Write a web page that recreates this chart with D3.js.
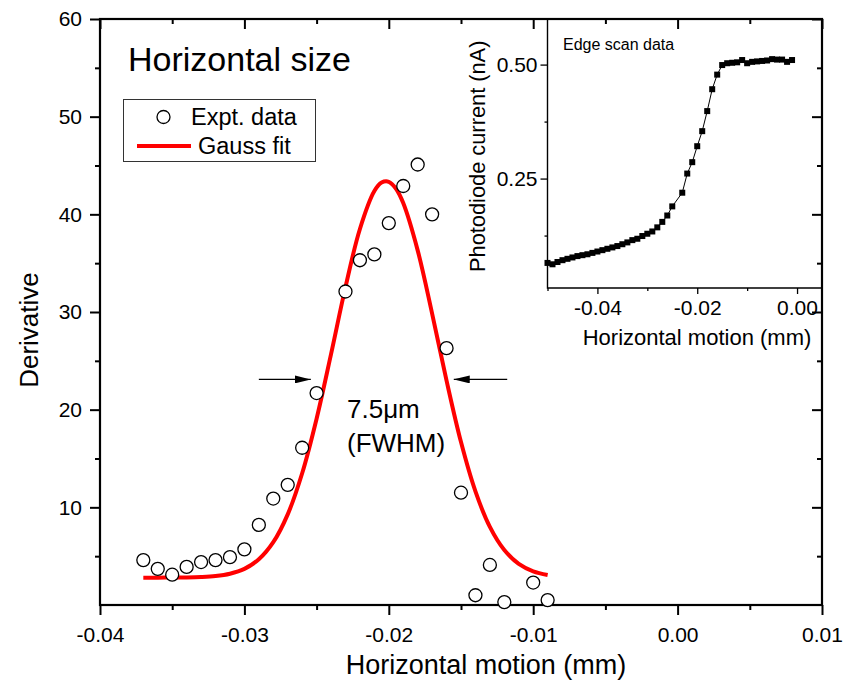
<!DOCTYPE html>
<html><head><meta charset="utf-8">
<script src="https://cdn.jsdelivr.net/npm/d3@7/dist/d3.min.js"></script>
<style>
body{margin:0;background:#fff}
svg{display:block}
text{font-family:"Liberation Sans",Arial,Helvetica,sans-serif;fill:#000}
</style>
</head><body>
<svg id="c" width="854" height="684"></svg>
<script>
// ---------- data ----------
const exptX = [-0.037,-0.036,-0.035,-0.034,-0.033,-0.032,-0.031,-0.030,-0.029,-0.028,-0.027,-0.026,-0.025,
               -0.023,-0.022,-0.021,-0.020,-0.019,-0.018,-0.017,-0.016,-0.015,-0.014,-0.013,-0.012,-0.010,-0.009];
const exptY = [4.6,3.7,3.1,3.9,4.4,4.6,4.9,5.7,8.2,10.9,12.3,16.1,21.7,
               32.1,35.3,35.9,39.1,42.9,45.1,40.0,26.3,11.5,1.0,4.1,0.3,2.3,0.5];

const fitX = [-0.037,-0.036,-0.035,-0.034,-0.033,-0.032,-0.031,-0.030,-0.029,-0.028,-0.027,-0.026,-0.025,-0.024,
              -0.023,-0.022,-0.021,-0.0205,-0.020,-0.0195,-0.019,-0.018,-0.017,-0.016,-0.015,-0.014,-0.013,-0.012,-0.011,-0.010,-0.009];
const fitY = [2.80,2.80,2.81,2.82,2.86,2.96,3.20,3.70,4.68,6.43,9.28,13.49,19.08,25.69,
              32.55,38.50,42.38,43.25,43.33,42.62,41.15,36.31,29.84,22.97,16.68,11.63,7.99,5.62,4.21,3.45,3.08];

const edgeX = [-0.050,-0.049,-0.048,-0.047,-0.046,-0.045,-0.044,-0.043,-0.042,-0.041,-0.040,-0.039,-0.038,
               -0.037,-0.036,-0.035,-0.034,-0.033,-0.032,-0.031,-0.030,-0.029,-0.028,-0.027,-0.026,-0.025,
               -0.023,-0.022,-0.021,-0.020,-0.019,-0.018,-0.017,-0.016,-0.015,-0.014,-0.013,-0.012,
               -0.011,-0.010,-0.009,-0.008,-0.007,-0.006,-0.005,-0.004,-0.003,-0.002,-0.001];
const edgeY = [0.065,0.062,0.067,0.071,0.074,0.077,0.080,0.082,0.084,0.087,0.090,0.093,0.096,
               0.099,0.102,0.106,0.110,0.115,0.118,0.124,0.129,0.134,0.143,0.155,0.169,0.189,
               0.219,0.261,0.286,0.321,0.354,0.398,0.446,0.478,0.499,0.503,0.504,0.505,
               0.510,0.503,0.506,0.507,0.508,0.509,0.512,0.511,0.511,0.506,0.510];

const mainXTicks = [-0.04,-0.03,-0.02,-0.01,0.00,0.01];
const mainXTickLabels = ["-0.04","-0.03","-0.02","-0.01","0.00","0.01"];
const mainXMinor = [-0.035,-0.025,-0.015,-0.005,0.005];
const mainYTicks = [10,20,30,40,50,60];
const mainYTickLabels = ["10","20","30","40","50","60"];
const mainYMinor = [5,15,25,35,45,55];

const insetXTicks = [-0.04,-0.02,0.00];
const insetXTickLabels = ["-0.04","-0.02","0.00"];
const insetXMinor = [-0.05,-0.03,-0.01];
const insetYTicks = [0.25,0.50];
const insetYTickLabels = ["0.25","0.50"];
const insetYMinor = [0.125,0.375];

const legendLabels = ["Expt. data","Gauss fit"];
const titleText = "Horizontal size";
const xTitle = "Horizontal motion (mm)";
const yTitle = "Derivative";
const insetTitle = "Edge scan data";
const insetXTitle = "Horizontal motion (mm)";
const insetYTitle = "Photodiode current (nA)";
const fwhmLines = ["7.5\u03bcm","(FWHM)"];
// arrow annotations in data units: [x from, x to (tip), y]
const arrows = [[-0.0290,-0.0254,23.1],[-0.0118,-0.0155,23.1]];

// ---------- layout ----------
const svg = d3.select("#c");
const M = {l:100, r:822, t:19, b:605};
const x = d3.scaleLinear().domain([-0.04,0.01]).range([M.l,M.r]);
const y = d3.scaleLinear().domain([0,60]).range([M.b,M.t]);

const I = {l:547.5, r:822, t:19, b:288};
const ix = d3.scaleLinear().domain([-0.05,0.005]).range([I.l,I.r]);
const iy = d3.scaleLinear().domain([0.01,0.6]).range([I.b,I.t]);

function styleAxis(g, w){
  g.select(".domain").remove();
  g.selectAll(".tick line").attr("stroke","#000").attr("stroke-width",w);
}

// main axes ticks (bottom outward, top inward)
svg.append("g").attr("transform",`translate(0,${M.b})`)
  .call(d3.axisBottom(x).tickValues(mainXTicks).tickSize(10).tickFormat((d,i)=>mainXTickLabels[i]))
  .call(g=>{styleAxis(g,2); g.selectAll("text").attr("font-size",21).attr("y",22).attr("dy","0.71em").attr("font-family",null);});
svg.append("g").attr("transform",`translate(0,${M.b})`)
  .call(d3.axisBottom(x).tickValues(mainXMinor).tickSize(5).tickFormat(""))
  .call(g=>styleAxis(g,2));
svg.append("g").attr("transform",`translate(0,${M.t})`)
  .call(d3.axisBottom(x).tickValues(mainXTicks).tickSize(10).tickFormat(""))
  .call(g=>styleAxis(g,2));
svg.append("g").attr("transform",`translate(0,${M.t})`)
  .call(d3.axisBottom(x).tickValues(mainXMinor).tickSize(5).tickFormat(""))
  .call(g=>styleAxis(g,2));

// left outward, right inward
svg.append("g").attr("transform",`translate(${M.l},0)`)
  .call(d3.axisLeft(y).tickValues(mainYTicks).tickSize(10).tickFormat((d,i)=>mainYTickLabels[i]))
  .call(g=>{styleAxis(g,2); g.selectAll("text").attr("font-size",21).attr("x",-18).attr("font-family",null);});
svg.append("g").attr("transform",`translate(${M.l},0)`)
  .call(d3.axisLeft(y).tickValues(mainYMinor).tickSize(5).tickFormat(""))
  .call(g=>styleAxis(g,2));
svg.append("g").attr("transform",`translate(${M.r},0)`)
  .call(d3.axisLeft(y).tickValues(mainYTicks).tickSize(10).tickFormat(""))
  .call(g=>styleAxis(g,2));
svg.append("g").attr("transform",`translate(${M.r},0)`)
  .call(d3.axisLeft(y).tickValues(mainYMinor).tickSize(5).tickFormat(""))
  .call(g=>styleAxis(g,2));

// main frame
svg.append("rect").attr("x",M.l).attr("y",M.t).attr("width",M.r-M.l).attr("height",M.b-M.t)
  .attr("fill","none").attr("stroke","#000").attr("stroke-width",2.2);

// inset frame and axes
svg.append("path").attr("d",`M${I.l},${I.t}V${I.b}H${I.r}`).attr("fill","none").attr("stroke","#000").attr("stroke-width",1.4);
svg.append("g").attr("transform",`translate(0,${I.b})`)
  .call(d3.axisBottom(ix).tickValues(insetXTicks).tickSize(6).tickFormat((d,i)=>insetXTickLabels[i]))
  .call(g=>{styleAxis(g,1.3); g.selectAll("text").attr("font-size",21).attr("y",12).attr("dy","0.71em").attr("font-family",null);});
svg.append("g").attr("transform",`translate(0,${I.b})`)
  .call(d3.axisBottom(ix).tickValues(insetXMinor).tickSize(3).tickFormat(""))
  .call(g=>styleAxis(g,1.3));
svg.append("g").attr("transform",`translate(${I.l},0)`)
  .call(d3.axisLeft(iy).tickValues(insetYTicks).tickSize(7).tickFormat((d,i)=>insetYTickLabels[i]))
  .call(g=>{styleAxis(g,1.3); g.selectAll("text").attr("font-size",21).attr("x",-10).attr("font-family",null);});
svg.append("g").attr("transform",`translate(${I.l},0)`)
  .call(d3.axisLeft(iy).tickValues(insetYMinor).tickSize(3).tickFormat(""))
  .call(g=>styleAxis(g,1.3));

// inset data
const edge = edgeX.map((v,i)=>[v,edgeY[i]]);
svg.append("path").datum(edge)
  .attr("d",d3.line().x(d=>ix(d[0])).y(d=>iy(d[1])))
  .attr("fill","none").attr("stroke","#000").attr("stroke-width",1);
svg.append("g").selectAll("rect").data(edge).join("rect")
  .attr("x",d=>ix(d[0])-3).attr("y",d=>iy(d[1])-3).attr("width",6).attr("height",6).attr("fill","#000");

svg.append("text").attr("x",563).attr("y",50).attr("font-size",16).text(insetTitle);
svg.append("text").attr("x",697).attr("y",345).attr("text-anchor","middle").attr("font-size",22).text(insetXTitle);
svg.append("text").attr("transform","translate(485,272) rotate(-90)").attr("font-size",21.8).text(insetYTitle);

// main data: fit curve
const fit = fitX.map((v,i)=>[v,fitY[i]]);
svg.append("path").datum(fit)
  .attr("d",d3.line().curve(d3.curveCatmullRom).x(d=>x(d[0])).y(d=>y(d[1])))
  .attr("fill","none").attr("stroke","#ff0000").attr("stroke-width",4);

// arrows
const defs = svg.append("defs");
defs.append("marker").attr("id","ah").attr("viewBox","0 0 16 8").attr("refX",16).attr("refY",4)
  .attr("markerWidth",16).attr("markerHeight",8).attr("markerUnits","userSpaceOnUse").attr("orient","auto")
  .append("path").attr("d","M0,0L16,4L0,8Z").attr("fill","#000");
svg.append("g").selectAll("line").data(arrows).join("line")
  .attr("x1",d=>x(d[0])).attr("x2",d=>x(d[1])).attr("y1",d=>y(d[2])).attr("y2",d=>y(d[2]))
  .attr("stroke","#000").attr("stroke-width",1.2).attr("marker-end","url(#ah)");

// expt circles
svg.append("g").selectAll("circle").data(exptX.map((v,i)=>[v,exptY[i]])).join("circle")
  .attr("cx",d=>x(d[0])).attr("cy",d=>y(d[1])).attr("r",6.5)
  .attr("fill","#fff").attr("stroke","#000").attr("stroke-width",1.3);

// texts
svg.append("text").attr("x",128).attr("y",71).attr("font-size",34).text(titleText);
svg.append("text").attr("x",347).attr("y",418).attr("font-size",26).text(fwhmLines[0]);
svg.append("text").attr("x",347).attr("y",452).attr("font-size",26).text(fwhmLines[1]);
svg.append("text").attr("x",486).attr("y",674).attr("text-anchor","middle").attr("font-size",27).text(xTitle);
svg.append("text").attr("transform","translate(38,330) rotate(-90)").attr("text-anchor","middle").attr("font-size",26).text(yTitle);

// legend
const lg = svg.append("g");
lg.append("rect").attr("x",123.5).attr("y",99.5).attr("width",192).attr("height",62)
  .attr("fill","#fff").attr("stroke","#333").attr("stroke-width",1);
lg.append("circle").attr("cx",163.5).attr("cy",117).attr("r",6.5).attr("fill","#fff").attr("stroke","#000").attr("stroke-width",1.3);
lg.append("text").attr("x",191).attr("y",125).attr("font-size",23.5).text(legendLabels[0]);
lg.append("line").attr("x1",137).attr("x2",191).attr("y1",146).attr("y2",146).attr("stroke","#ff0000").attr("stroke-width",4);
lg.append("text").attr("x",198).attr("y",154).attr("font-size",23.5).text(legendLabels[1]);
</script>
</body></html>
